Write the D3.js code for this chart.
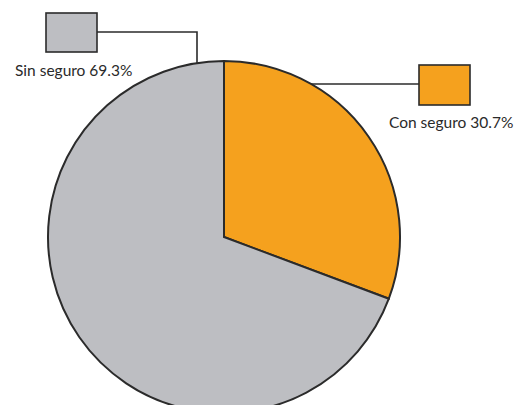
<!DOCTYPE html>
<html><head><meta charset="utf-8">
<script src="https://cdn.jsdelivr.net/npm/d3@7"></script>
<style>body{margin:0;background:#fff}svg{display:block}</style>
</head><body>
<script>
const categories = ["Con seguro", "Sin seguro"];
const values = [30.7, 69.3];
const colors = ["#f5a11e", "#bdbec2"];

const W = 526, H = 405;
const cx = 224, cy = 237, R = 176;
const svg = d3.select("body").append("svg").attr("width", W).attr("height", H);

const pie = d3.pie().sort(null).value(d => d)(values);
const arc = d3.arc().innerRadius(0).outerRadius(R);
const g = svg.append("g").attr("transform", `translate(${cx},${cy})`);
g.selectAll("path").data(pie).join("path")
  .attr("d", arc).attr("fill", (d, i) => colors[i])
  .attr("stroke", "#2b2b2b").attr("stroke-width", 2).attr("stroke-linejoin", "miter");

// legend boxes with leader lines
const legends = [
  {i: 1, box: [46, 13, 51, 39], lineY: 32, elbowX: 197, label: [15, 76], side: "left"},
  {i: 0, box: [419, 65, 51, 40], lineY: 84, label: [389, 128], side: "right"}
];
legends.forEach(L => {
  const [bx, by, bw, bh] = L.box;
  if (L.side === "left") {
    const yEdge = cy - Math.sqrt(R * R - (L.elbowX - cx) ** 2);
    svg.append("path").attr("d", `M${bx + bw},${L.lineY}H${L.elbowX}V${yEdge}`)
      .attr("fill", "none").attr("stroke", "#2b2b2b").attr("stroke-width", 1.6);
  } else {
    const xEdge = cx + Math.sqrt(R * R - (L.lineY - cy) ** 2);
    svg.append("path").attr("d", `M${bx},${L.lineY}H${xEdge}`)
      .attr("fill", "none").attr("stroke", "#2b2b2b").attr("stroke-width", 1.6);
  }
  svg.append("rect").attr("x", bx).attr("y", by).attr("width", bw).attr("height", bh)
    .attr("fill", colors[L.i]).attr("stroke", "#2b2b2b").attr("stroke-width", 1.6);
  svg.append("text").attr("x", L.label[0]).attr("y", L.label[1])
    .attr("font-family", "Lato, 'Open Sans', sans-serif").attr("font-size", 15.5)
    .attr("fill", "#2a2a2a")
    .text(`${categories[L.i]} ${values[L.i]}%`);
});
</script>
</body></html>
